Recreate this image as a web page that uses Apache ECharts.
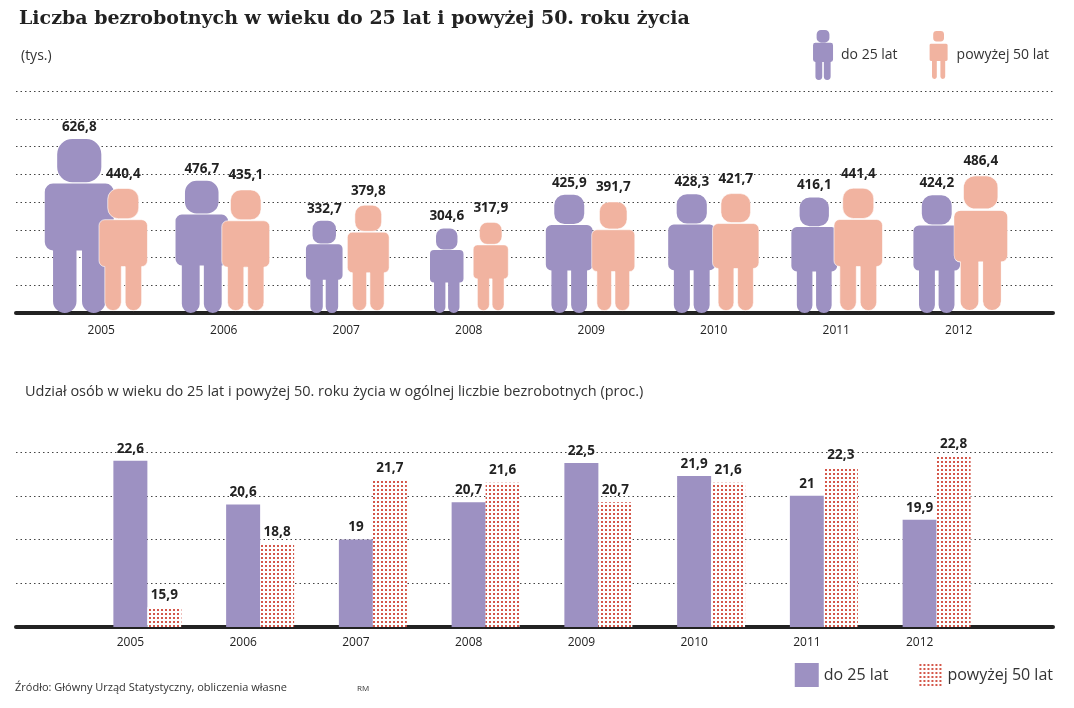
<!DOCTYPE html>
<html>
<head>
<meta charset="utf-8">
<script src="https://cdn.jsdelivr.net/npm/echarts@6/dist/echarts.min.js"></script>
<style>html,body{margin:0;padding:0;background:#fff}#chart{width:1074px;height:708px}</style>
</head>
<body>
<div id="chart"></div>
<script>
const years = ['2005', '2006', '2007', '2008', '2009', '2010', '2011', '2012'];
const countYoung = [626.8, 476.7, 332.7, 304.6, 425.9, 428.3, 416.1, 424.2];
const countOld = [440.4, 435.1, 379.8, 317.9, 391.7, 421.7, 441.4, 486.4];
const shareYoung = [22.6, 20.6, 19, 20.7, 22.5, 21.9, 21, 19.9];
const shareOld = [15.9, 18.8, 21.7, 21.6, 20.7, 21.6, 22.3, 22.8];

const PURPLE = '#9d91c2';
const SALMON = '#f1b3a0';
const FONT = '"Open Sans", "Noto Sans", sans-serif';

const person = 'path://M40,0 h20 a22,22 0 0 1 22,22 v18 a22,22 0 0 1 -22,22 h-20 a22,22 0 0 1 -22,-22 v-18 a22,22 0 0 1 22,-22 z ' +
  'M12,64 h76 a12,12 0 0 1 12,12 v72 a12,12 0 0 1 -12,12 v73 a17,17 0 0 1 -34,0 v-73 h-8 v73 a17,17 0 0 1 -34,0 v-73 a12,12 0 0 1 -12,-12 v-72 a12,12 0 0 1 12,-12 z';

// red dot pattern
const pc = document.createElement('canvas');
pc.width = 4; pc.height = 4;
const ctx = pc.getContext('2d');
ctx.fillStyle = '#fff'; ctx.fillRect(0, 0, 4, 4);
ctx.fillStyle = '#d4574a'; ctx.fillRect(1, 1, 2, 2);
const dots = { image: pc, repeat: 'repeat' };

const fmt = v => String(v).replace('.', ',');
const labelStyle = { show: true, position: 'top', color: '#222', fontWeight: 'bold', fontSize: 13.5, fontFamily: FONT, formatter: p => fmt(p.value) };
const dotted = { lineStyle: { color: '#444', type: [1.5, 3], width: 1 } };

const chart = echarts.init(document.getElementById('chart'));
chart.setOption({
  animation: false,
  title: [
    { text: 'Liczba bezrobotnych w wieku do 25 lat i powyżej 50. roku życia', left: 14, top: 5,
      textStyle: { fontFamily: '"DejaVu Serif", serif', fontWeight: 'bold', fontSize: 19, color: '#222' } },
    { text: '(tys.)', left: 16, top: 44, textStyle: { fontFamily: FONT, fontWeight: 'normal', fontSize: 14, color: '#333' } },
    { text: 'Udział osób w wieku do 25 lat i powyżej 50. roku życia w ogólnej liczbie bezrobotnych (proc.)', left: 20, top: 379,
      textStyle: { fontFamily: FONT, fontWeight: 'normal', fontSize: 14.5, color: '#333' } },
    { text: 'Źródło: Główny Urząd Statystyczny, obliczenia własne', left: 10, top: 677,
      textStyle: { fontFamily: FONT, fontWeight: 'normal', fontSize: 11, color: '#333' } },
    { text: 'RM', left: 352, top: 680, textStyle: { fontFamily: FONT, fontWeight: 'normal', fontSize: 8, color: '#333' } }
  ],
  legend: [
    { top: 24, right: 20, itemGap: 30, itemWidth: 26, itemHeight: 50, data: [
        { name: 'do 25 lat', icon: person, itemStyle: { color: PURPLE } },
        { name: 'powyżej 50 lat', icon: person, itemStyle: { color: SALMON } }],
      textStyle: { fontFamily: FONT, fontSize: 14, color: '#333', padding: [40, 0, 0, 0] } },
    { bottom: 16, right: 16, itemGap: 30, itemWidth: 24, itemHeight: 24, icon: 'rect',
      data: ['do 25 lat (proc.)', 'powyżej 50 lat (proc.)'],
      formatter: n => n.replace(' (proc.)', ''),
      textStyle: { fontFamily: FONT, fontSize: 16, color: '#333' } }
  ],
  grid: [
    { left: 16, right: 21, top: 91, bottom: 395 },
    { left: 40, right: 54, top: 91, bottom: 395 },
    { left: 16, right: 21, top: 452, bottom: 81 },
    { left: 91, right: 81, top: 452, bottom: 81 }
  ],
  xAxis: [
    { gridIndex: 0, type: 'category', data: [''], axisLine: { lineStyle: { color: '#222', width: 4 } }, axisTick: { show: false }, axisLabel: { show: false } },
    { gridIndex: 1, type: 'category', data: years, axisLine: { show: false }, axisTick: { show: false },
      axisLabel: { margin: 12, fontFamily: FONT, fontSize: 12, color: '#222' } },
    { gridIndex: 2, type: 'category', data: [''], axisLine: { lineStyle: { color: '#222', width: 4 } }, axisTick: { show: false }, axisLabel: { show: false } },
    { gridIndex: 3, type: 'category', data: years, axisLine: { show: false }, axisTick: { show: false },
      axisLabel: { margin: 10, padding: [0, 34, 0, 0], fontFamily: FONT, fontSize: 12, color: '#222' } }
  ],
  yAxis: [
    { gridIndex: 0, type: 'value', min: 0, max: 800, interval: 100, axisLabel: { show: false }, splitLine: dotted },
    { gridIndex: 1, type: 'value', min: 0, max: 800, interval: 100, show: false },
    { gridIndex: 2, type: 'value', min: 15, max: 23, interval: 2, axisLabel: { show: false }, splitLine: dotted },
    { gridIndex: 3, type: 'value', min: 15, max: 23, interval: 2, show: false }
  ],
  series: [
    { name: 'do 25 lat', type: 'pictorialBar', xAxisIndex: 1, yAxisIndex: 1, symbol: person,
      barWidth: 44, barGap: '0%', z: 3,
      data: countYoung.map(v => ({ value: v, symbolSize: [v * 0.11, '100%'] })),
      itemStyle: { color: PURPLE }, label: labelStyle },
    { name: 'powyżej 50 lat', type: 'pictorialBar', xAxisIndex: 1, yAxisIndex: 1, symbol: person,
      barWidth: 44, barGap: '0%', z: 4,
      data: countOld.map(v => ({ value: v, symbolSize: [v * 0.11, '100%'] })),
      itemStyle: { color: SALMON, borderColor: '#fff', borderWidth: 3 }, label: labelStyle },
    { name: 'do 25 lat (proc.)', type: 'bar', xAxisIndex: 3, yAxisIndex: 3, data: shareYoung,
      barWidth: 34, barGap: '0%', itemStyle: { color: PURPLE }, label: labelStyle },
    { name: 'powyżej 50 lat (proc.)', type: 'bar', xAxisIndex: 3, yAxisIndex: 3, data: shareOld,
      barWidth: 34, barGap: '0%', itemStyle: { color: dots }, label: labelStyle }
  ]
});
</script>
</body>
</html>
